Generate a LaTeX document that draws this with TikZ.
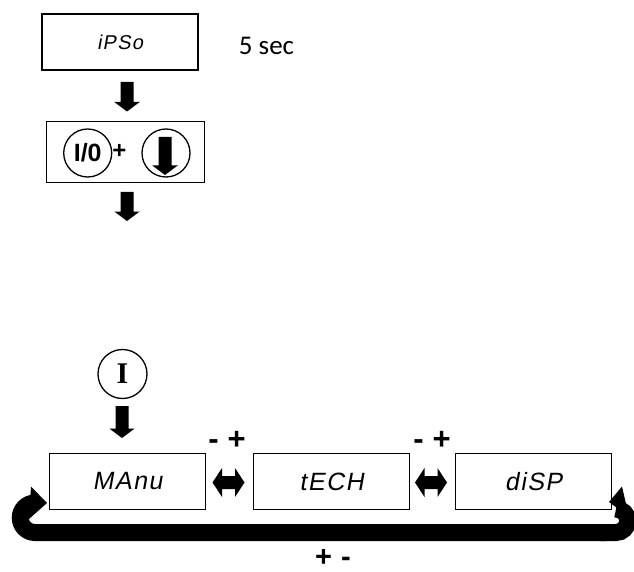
\documentclass[tikz,border=0pt]{standalone}
\usepackage{fontspec}
\setmainfont{Carlito}
\newfontfamily\segfont[FakeSlant=0.18,LetterSpace=6]{Liberation Sans}
\newfontfamily\boldsans{Liberation Sans}
\newfontfamily\serifb{Liberation Serif}
% block arrow pointing down: x, y of shaft top, y of tip (screen coordinates)
\newcommand\blockdown[3]{\fill (#1-6.5,-#2) -- (#1+6.5,-#2) -- (#1+6.5,-#3+9.5) -- (#1+12.75,-#3+9.5) -- (#1,-#3) -- (#1-12.75,-#3+9.5) -- (#1-6.5,-#3+9.5) -- cycle;}
% horizontal double block arrow centred at x, y
\newcommand\blockboth[2]{\fill (#1-16,-#2) -- (#1-6.5,-#2+14.5) -- (#1-6.5,-#2+6.5) -- (#1+6.5,-#2+6.5) -- (#1+6.5,-#2+14.5) -- (#1+16,-#2) -- (#1+6.5,-#2-14.5) -- (#1+6.5,-#2-6.5) -- (#1-6.5,-#2-6.5) -- (#1-6.5,-#2-14.5) -- cycle;}
\begin{document}
\begin{tikzpicture}[x=1pt,y=1pt]
\tikzset{
 dispbox/.style={draw, line width=1.5pt, minimum width=156pt, minimum height=56pt, inner sep=0pt, font=\segfont\fontsize{25}{25}\selectfont},
 keycirc/.style={draw, line width=1.3pt, circle, minimum size=48pt, inner sep=0pt},
 sign/.style={font=\boldsans\bfseries\fontsize{31}{31}\selectfont, inner sep=0pt},
 band/.style={line width=17pt},
}
\useasboundingbox (0,0) rectangle (634,-572);
% top part
\node[dispbox, font=\segfont\fontsize{20}{20}\selectfont] (ipso) at (120,-42) {iPSo};
\node[font=\fontsize{27}{27}\selectfont, inner sep=0pt] (sec) at (266.5,-46) {5 sec};
\blockdown{127}{82}{111.5}
\node[draw, line width=1.5pt, minimum width=158pt, minimum height=61pt, inner sep=0pt] (combo) at (125.5,-152) {};
\node[keycirc] (io) at (87.7,-153) {\boldsans\bfseries\fontsize{25}{25}\selectfont I/0};
\node[sign, font=\boldsans\bfseries\fontsize{24}{24}\selectfont] (plus) at (119.5,-151.5) {+};
\node[keycirc] (dn) at (166,-153) {};
\blockdown{165}{137}{175}
\blockdown{127}{192}{221}
% bottom part
\node[keycirc, minimum size=49pt] (ikey) at (122.5,-374) {\serifb\bfseries\fontsize{30}{30}\selectfont I};
\blockdown{122}{406}{438}
\node[dispbox] (manu) at (127.5,-481.5) {MAnu};
\node[dispbox] (tech) at (331.5,-481.5) {tECH};
\node[dispbox] (disp) at (533.5,-481.5) {diSP};
\blockboth{228.5}{482.5}
\blockboth{431}{482.5}
\node[sign] (mp1) at (227,-440) {-\hspace{9pt}+};
\node[sign] (mp2) at (432,-440) {-\hspace{9pt}+};
\node[sign, font=\boldsans\bfseries\fontsize{29}{29}\selectfont] (pm) at (333,-558) {+\hspace{9pt}-};
% return band
\draw[band] (606,-532.5) -- (35,-532.5) arc[start angle=270,end angle=90,radius=14.75] -- ++(1,0);
\fill (47,-503) -- (31,-486.5) -- (29,-519) -- cycle;
\draw[band] (600,-532.5) -- (616,-532.5) arc[start angle=270,end angle=450,radius=11.75];
\fill (609,-502) -- (622,-486.5) -- (629,-517) -- cycle;
\end{tikzpicture}
\end{document}
